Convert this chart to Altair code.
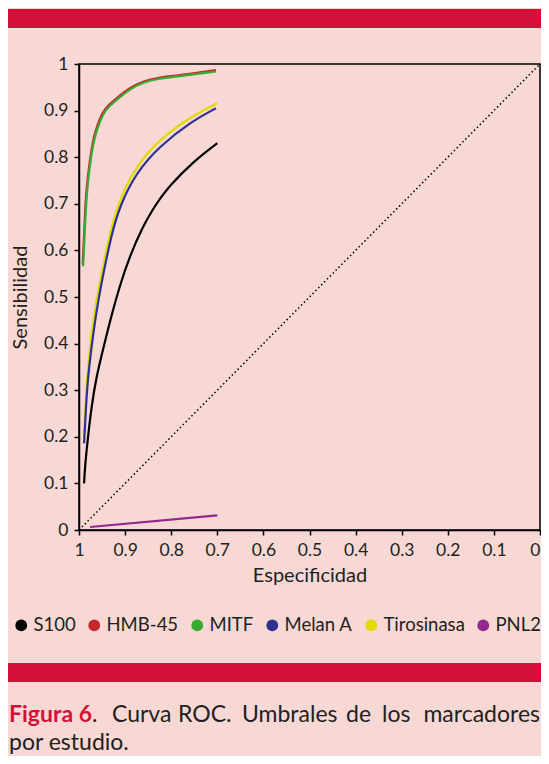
import altair as alt
import pandas as pd

# ---------------- data ----------------
series_names = ["S100", "HMB-45", "MITF", "Melan A", "Tirosinasa", "PNL2"]
series_colors = ["#000000", "#C1272D", "#3BAA34", "#2E3192", "#E2DA00", "#92278F"]

s100_spec = [0.989, 0.987, 0.982, 0.973, 0.962, 0.948, 0.930, 0.912, 0.890, 0.861, 0.840, 0.825, 0.804, 0.754, 0.700]
s100_sens = [0.100, 0.136, 0.186, 0.265, 0.330, 0.387, 0.459, 0.523, 0.588, 0.652, 0.688, 0.710, 0.738, 0.789, 0.830]

hmb_spec = [0.992, 0.988, 0.985, 0.981, 0.975, 0.972, 0.967, 0.949, 0.934, 0.916, 0.891, 0.862, 0.826, 0.790, 0.703]
hmb_sens = [0.570, 0.655, 0.720, 0.757, 0.803, 0.821, 0.849, 0.899, 0.913, 0.929, 0.948, 0.963, 0.971, 0.975, 0.987]

mitf_spec = [0.991, 0.987, 0.9834, 0.980, 0.974, 0.971, 0.9655, 0.9476, 0.933, 0.915, 0.890, 0.861, 0.825, 0.789, 0.703]
mitf_sens = [0.566, 0.652, 0.717, 0.753, 0.799, 0.817, 0.846, 0.896, 0.910, 0.926, 0.946, 0.961, 0.969, 0.973, 0.984]

melan_spec = [0.989, 0.983, 0.978, 0.969, 0.958, 0.944, 0.930, 0.912, 0.876, 0.825, 0.754, 0.703]
melan_sens = [0.186, 0.300, 0.351, 0.423, 0.495, 0.566, 0.631, 0.695, 0.767, 0.824, 0.878, 0.905]

tiro_spec = [0.989, 0.984, 0.980, 0.973, 0.962, 0.948, 0.933, 0.912, 0.876, 0.825, 0.754, 0.700]
tiro_sens = [0.200, 0.300, 0.351, 0.423, 0.495, 0.566, 0.638, 0.710, 0.781, 0.839, 0.889, 0.916]

pnl2_spec = [0.976, 0.700]
pnl2_sens = [0.0065, 0.0315]

diag_spec = [1.0, 0.0]
diag_sens = [0.0, 1.0]

tick_values = [0, 0.1, 0.2, 0.3, 0.4, 0.5, 0.6, 0.7, 0.8, 0.9, 1]

caption_line1 = ["Figura 6", ".", "Curva", "ROC.", "Umbrales", "de", "los", "marcadores"]
caption_line2 = "por estudio."

# ---------------- build tables ----------------
curve_data = {
    "S100": (s100_spec, s100_sens),
    "HMB-45": (hmb_spec, hmb_sens),
    "MITF": (mitf_spec, mitf_sens),
    "Melan A": (melan_spec, melan_sens),
    "Tirosinasa": (tiro_spec, tiro_sens),
    "PNL2": (pnl2_spec, pnl2_sens),
}
rows = []
for name, (sp, se) in curve_data.items():
    for i, (a, b) in enumerate(zip(sp, se)):
        rows.append({"series": name, "spec": a, "sens": b, "idx": i})
df = pd.DataFrame(rows)
diag_df = pd.DataFrame({"spec": diag_spec, "sens": diag_sens, "idx": [0, 1]})
color_of = dict(zip(series_names, series_colors))

FONT = "Lato"
PINK = "#F7D8D4"
CRIMSON = "#D41038"
TEXT = "#231F20"

xscale = alt.Scale(domain=[0, 1], reverse=True, nice=False, zero=False)
yscale = alt.Scale(domain=[0, 1], nice=False, zero=False)
xaxis = alt.Axis(values=tick_values, format="~g", title="Especificidad", grid=False,
                 domainColor="black", domainWidth=1.5, tickColor="black", tickWidth=1.5,
                 tickSize=5, labelFont=FONT, labelFontSize=17.5, labelColor=TEXT,
                 labelAlign={"condition": {"test": "datum.value == 0", "value": "right"}, "value": "center"},
                 labelPadding=6, titleFont=FONT, titleFontSize=20, titleFontWeight="normal",
                 titleColor=TEXT, titlePadding=7, labelFlush=False)
yaxis = alt.Axis(values=tick_values, format="~g", title="Sensibilidad", grid=False,
                 domainColor="black", domainWidth=1.5, tickColor="black", tickWidth=1.5,
                 tickSize=5, labelFont=FONT, labelFontSize=17.5, labelColor=TEXT,
                 labelPadding=6, titleFont=FONT, titleFontSize=20, titleFontWeight="normal",
                 titleColor=TEXT, titlePadding=13, labelFlush=False)

X = alt.X("spec:Q", scale=xscale, axis=xaxis)
Y = alt.Y("sens:Q", scale=yscale, axis=yaxis)

diag = alt.Chart(diag_df).mark_line(color="black", strokeWidth=1.5, strokeDash=[1.5, 2.6]).encode(
    x=X, y=Y, order="idx:Q")

draw_order = ["PNL2", "S100", "HMB-45", "MITF", "Tirosinasa", "Melan A"]
line_layers = []
for name in draw_order:
    line_layers.append(
        alt.Chart(df).transform_filter(alt.datum.series == name)
        .mark_line(color=color_of[name], strokeWidth=2.2, interpolate="basis")
        .encode(x=X, y=Y, order="idx:Q")
    )

legend_layer = alt.Chart(df).transform_filter("false").mark_circle(opacity=1).encode(
    x=X, y=Y,
    fill=alt.Fill("series:N", scale=alt.Scale(domain=series_names, range=series_colors),
                  legend=alt.Legend(orient="none", legendX=-67, legendY=552, direction="horizontal",
                                    title=None, symbolType="circle", symbolSize=140,
                                    symbolOpacity=1, symbolStrokeWidth=0, labelFont=FONT,
                                    labelFontSize=18.5, labelColor=TEXT, labelOffset=3,
                                    columnPadding=9, padding=0)),
)

one = pd.DataFrame({"k": [0]})
bar_top = alt.Chart(one).mark_rect(color=CRIMSON).encode(
    x=alt.value(-71), x2=alt.value(470), y=alt.value(-55), y2=alt.value(-36))
bar_bot = alt.Chart(one).mark_rect(color=CRIMSON).encode(
    x=alt.value(-71), x2=alt.value(470), y=alt.value(599), y2=alt.value(618))

cap_x = [-70, 13, 33, 99, 163, 267, 303, 461]
cap_align = ["left", "left", "left", "left", "left", "left", "left", "right"]
cap_layers = []
for i, word in enumerate(caption_line1):
    bold = i == 0
    cap_layers.append(
        alt.Chart(one).mark_text(text=word, font=FONT, fontSize=23,
                                 fontWeight="bold" if bold else "normal",
                                 color=CRIMSON if bold else TEXT,
                                 align=cap_align[i], baseline="alphabetic")
        .encode(x=alt.value(cap_x[i]), y=alt.value(658))
    )
cap_layers.append(
    alt.Chart(one).mark_text(text=caption_line2, font=FONT, fontSize=23, color=TEXT,
                             align="left", baseline="alphabetic")
    .encode(x=alt.value(-70), y=alt.value(686))
)

chart = alt.layer(bar_top, bar_bot, diag, *line_layers, legend_layer, *cap_layers).properties(
    width=461, height=466,
    background=PINK,
    padding={"left": 71, "top": 56, "right": 1, "bottom": 226},
    autosize=alt.AutoSizeParams(type="none"),
).configure_view(stroke="black", strokeWidth=1.5)

chart.save("out.html", embed_options={"renderer": "svg", "actions": False})
